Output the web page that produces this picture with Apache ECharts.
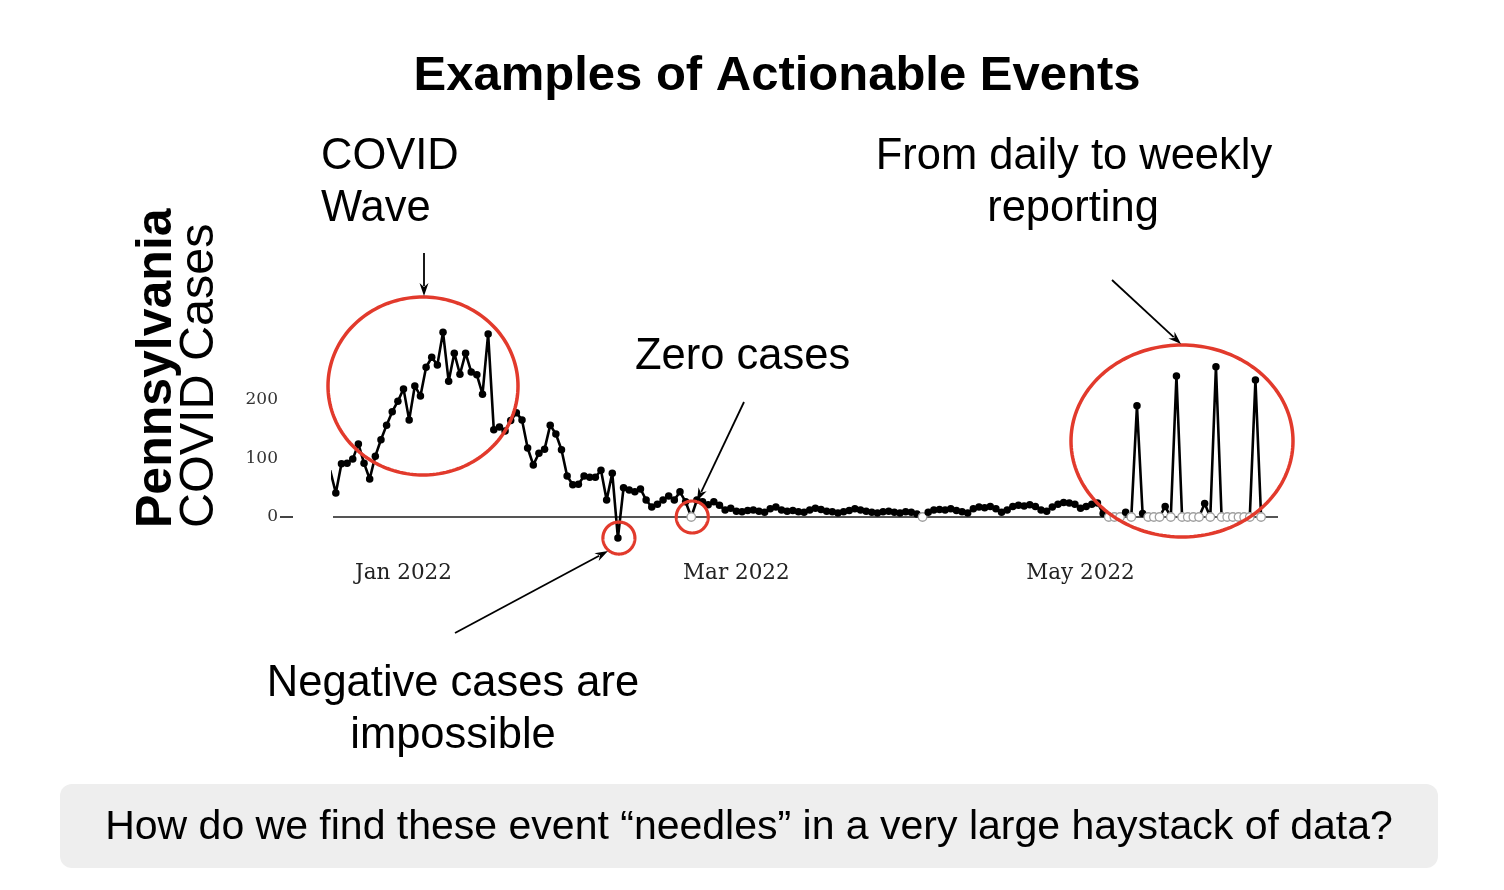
<!DOCTYPE html>
<html><head><meta charset="utf-8">
<script src="https://cdn.jsdelivr.net/npm/echarts@6/dist/echarts.min.js"></script>
<style>html,body{margin:0;padding:0;background:#fff}#c{width:1504px;height:890px}</style>
</head><body><div id="c"></div>
<script>
// Day offset (from 2022-01-01) of the first value
const startDay = -13;
// Daily Pennsylvania COVID cases
const caseValues = [
  80, 41, 91, 92, 99, 125, 92, 65, 104, 132, 157, 180, 198,           // Dec 19 - Dec 31
  219, 166, 224, 207, 256, 273, 260, 316, 232, 280, 244, 280, 248,     // Jan 1 - Jan 13
  243, 210, 313, 149, 154, 147, 165, 178, 166, 118, 89, 109, 116,      // Jan 14 - Jan 26
  157, 142, 115, 70, 55, 56, 70, 68, 68, 80, 29, 75, -36,             // Jan 27 - Feb 8
  50, 46, 43, 48, 29, 17, 22, 29, 36, 29, 43, 26, 0,                  // Feb 9 - Feb 21
  29, 26, 21, 26, 20, 12, 15,                                         // Feb 22 - Feb 28
  10, 9, 11, 12, 10, 8, 14, 17, 12, 10, 11, 9, 8, 12, 15, 13,          // Mar 1 - Mar 16
  10, 9, 7, 9, 11, 14, 12, 10, 8, 7, 9, 10, 8, 7, 9, 8,                // Mar 17 - Apr 1
  5, 0, 8, 12, 13, 12, 14, 11, 9, 7, 14, 17, 16, 18, 14, 8,            // Apr 2 - Apr 17
  12, 18, 20, 19, 21, 18, 12, 10, 17, 22, 25, 24, 22, 15, 18, 22,      // Apr 18 - May 3
  24, 6, 0, 0, 0, 8, 0, 190, 6, 0, 0, 0, 18, 0, 241, 0,               // May 4 - May 19
  0, 0, 0, 23, 0, 257, 0, 0, 0, 0, 0, 0, 234, 0                        // May 20 - Jun 2
];
const monthTickDays = [0, 59, 120];
const monthTickLabels = ['Jan 2022', 'Mar 2022', 'May 2022'];
const yTickValues = [0, 100, 200];

const seriesData = caseValues.map((v, i) => {
  const d = startDay + i;
  if (v === 0) {
    return { value: [d, 0], symbolSize: 8.5, itemStyle: { color: '#ffffff', borderColor: '#a0a0a0', borderWidth: 1.3 } };
  }
  return [d, v];
});

const chart = echarts.init(document.getElementById('c'), null, { renderer: 'canvas' });
const RED = '#e23a2c';
const SANS = 'Liberation Sans, Arial, Helvetica, sans-serif';
const SERIF = 'DejaVu Serif, serif';

chart.setOption({
  animation: false,
  backgroundColor: '#ffffff',
  grid: { left: 333, right: 226, top: 312.25, bottom: 343.75, containLabel: false },
  xAxis: {
    type: 'value', min: -12.5, max: 155,
    axisLine: { show: false }, axisTick: { show: false }, splitLine: { show: false },
    axisLabel: {
      customValues: monthTickDays,
      formatter: v => { const k = monthTickDays.indexOf(v); return k >= 0 ? monthTickLabels[k] : ''; },
      fontFamily: SERIF, fontSize: 21.5, color: '#222', margin: 16
    }
  },
  yAxis: {
    type: 'value', min: -50, max: 350, offset: 40,
    axisLine: { show: false },
    splitLine: { show: false },
    axisTick: { show: false },
    axisLabel: { customValues: yTickValues, fontFamily: SERIF, fontSize: 17, color: '#333', margin: 15 }
  },
  series: [{
    type: 'line',
    data: seriesData,
    symbol: 'circle', symbolSize: 7.5, showAllSymbol: true,
    lineStyle: { color: '#000', width: 2.6 },
    itemStyle: { color: '#000' },
    clip: true,
    z: 3,
    markLine: {
      silent: true, symbol: 'none', label: { show: false },
      lineStyle: { color: '#555', width: 2.2, type: 'solid' },
      data: [{ yAxis: 0 }], z: 1
    }
  }]
});

function ellipse(cx, cy, rx, ry, lw) {
  const pts = [];
  for (let k = 0; k < 180; k++) { const a = k / 180 * Math.PI * 2; pts.push([cx + rx * Math.cos(a), cy + ry * Math.sin(a)]); }
  return { type: 'polygon', z: 100, silent: true, shape: { points: pts }, style: { fill: 'none', stroke: RED, lineWidth: lw } };
}
function arrow(x1, y1, x2, y2) {
  const ang = Math.atan2(y2 - y1, x2 - x1), L = 13, W = 4.5;
  const bx = x2 - L * Math.cos(ang), by = y2 - L * Math.sin(ang);
  const px = -Math.sin(ang) * W, py = Math.cos(ang) * W;
  return [
    { type: 'line', z: 100, silent: true, shape: { x1, y1, x2: bx + 3 * Math.cos(ang), y2: by + 3 * Math.sin(ang) }, style: { stroke: '#000', lineWidth: 1.8 } },
    { type: 'polygon', z: 100, silent: true, shape: { points: [[x2, y2], [bx + px, by + py], [bx + 4 * Math.cos(ang), by + 4 * Math.sin(ang)], [bx - px, by - py]] }, style: { fill: '#000' } }
  ];
}
function txt(text, x, y, size, align, weight, rot) {
  const el = { type: 'text', z: 100, silent: true, x, y,
    style: { text, fontSize: size, fontFamily: SANS, fontWeight: weight || 'normal', fill: '#000',
      align: align, textAlign: align, verticalAlign: 'middle', textVerticalAlign: 'middle' } };
  if (rot) el.rotation = rot;
  return el;
}

const negPx = chart.convertToPixel({ gridIndex: 0 }, [38, -36]);
const zeroPx = chart.convertToPixel({ gridIndex: 0 }, [51, 0]);
const zeroY = chart.convertToPixel({ yAxisIndex: 0 }, 0);

chart.setOption({
  graphic: [
    { type: 'rect', z: 0, silent: true, shape: { x: 60, y: 784, width: 1378, height: 84, r: 12 }, style: { fill: '#eeeeee' } },
    { type: 'line', z: 100, silent: true, shape: { x1: 280, y1: zeroY, x2: 293, y2: zeroY }, style: { stroke: '#444', lineWidth: 2 } },
    txt('How do we find these event \u201cneedles\u201d in a very large haystack of data?', 749, 828, 41, 'center'),
    txt('Examples of Actionable Events', 777, 76, 49, 'center', 'bold'),
    txt('COVID', 321, 157, 43.5, 'left'),
    txt('Wave', 321, 209, 43.5, 'left'),
    txt('From daily to weekly', 1074, 157, 43.5, 'center'),
    txt('reporting', 1073, 209, 43.5, 'center'),
    txt('Zero cases', 635, 357, 43.5, 'left'),
    txt('Negative cases are', 453, 684, 43.5, 'center'),
    txt('impossible', 453, 736, 43.5, 'center'),
    txt('Pennsylvania', 157, 528, 50, 'left', 'bold', Math.PI / 2),
    txt('COVID Cases', 200, 528, 48.5, 'left', 'normal', Math.PI / 2),
    ellipse(423, 386, 95, 89, 3.5),
    ellipse(1182, 441, 111, 96, 3.5),
    ellipse(negPx[0] + 1, negPx[1], 16, 16, 3.2),
    ellipse(zeroPx[0] + 1, zeroPx[1], 16, 16, 3.2),
    ...arrow(424, 253, 424, 296),
    ...arrow(455, 633, 608, 551),
    ...arrow(744, 402, 697, 501),
    ...arrow(1112, 280, 1181, 344)
  ]
});
</script>
</body></html>
